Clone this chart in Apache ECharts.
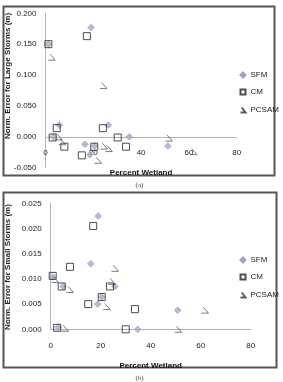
<!DOCTYPE html>
<html>
<head>
<meta charset="utf-8">
<script src="https://cdn.jsdelivr.net/npm/echarts@6/dist/echarts.min.js"></script>
<style>
body { margin: 0; background: #fff; }
#main { width: 283px; height: 382px; }
</style>
</head>
<body>
<div id="main"></div>
<script>
// (a) large storms
var sfmAx = [1.2, 19.1, 5.8, 3.3, 16.5, 18.6, 20.5, 26.3, 35.1, 51.2];
var sfmAy = [0.150, 0.177, 0.019, 0.000, -0.012, -0.029, -0.015, 0.019, 0.000, -0.015];
var cmAx = [1.2, 17.3, 4.7, 3.0, 7.9, 15.2, 20.4, 24.0, 30.2, 33.7];
var cmAy = [0.150, 0.163, 0.014, -0.001, -0.016, -0.030, -0.016, 0.014, -0.001, -0.016];
var pcAx = [2.6, 24.2, 5.5, 7.0, 22.0, 24.5, 26.5, 51.6, 61.9];
var pcAy = [0.129, 0.083, 0.000, -0.008, -0.038, -0.015, -0.019, -0.002, -0.024];

// (b) small storms
var sfmBx = [19.0, 16.0, 0.8, 5.0, 18.8, 20.4, 25.7, 3.0, 34.8, 50.8];
var sfmBy = [0.0225, 0.0130, 0.0104, 0.0085, 0.0050, 0.0064, 0.0085, 0.0004, 0.0000, 0.0038];
var cmBx = [17.0, 7.7, 0.8, 4.4, 15.0, 20.4, 23.7, 2.6, 30.0, 33.7];
var cmBy = [0.0205, 0.0124, 0.0106, 0.0085, 0.0050, 0.0064, 0.0085, 0.0003, 0.0000, 0.0040];
var pcBx = [25.7, 1.7, 7.7, 24.5, 22.4, 5.7, 51.0, 61.7];
var pcBy = [0.0121, 0.0099, 0.0079, 0.0095, 0.0045, 0.0002, 0.0000, 0.0038];

var seriesNames = ["SFM", "CM", "PCSAM"];
var xTicks = [0, 20, 40, 60, 80];

function pairs(xs, ys) {
  var out = [];
  for (var i = 0; i < xs.length; i++) out.push([xs[i], ys[i]]);
  return out;
}

var font = "Liberation Sans, Arial, sans-serif";
var axisGray = "#b4b4b4";
var hook = "path://M2,0L8,8L0,8";

var gridA = { left: 45.5, top: 13.3, width: 191.2, height: 154.4 };
var gridB = { left: 50.7, top: 203.3, width: 200, height: 126 };
var yMinA = -0.05, yMaxA = 0.2;

function xAx(idx, offset) {
  return {
    gridIndex: idx, type: "value", min: xTicks[0], max: xTicks[xTicks.length - 1], interval: 20,
    offset: offset,
    axisLine: { onZero: false, lineStyle: { color: axisGray, width: 1 } },
    axisTick: { show: false }, splitLine: { show: false },
    axisLabel: { fontSize: 8, color: "#222", fontFamily: font, margin: 12 },
    name: "Percent Wetland", nameLocation: "middle", nameGap: 32,
    nameTextStyle: { fontSize: 8, fontWeight: "bold", color: "#111", fontFamily: font }
  };
}
function yAx(idx, min, max, step) {
  return {
    gridIndex: idx, type: "value", min: min, max: max, interval: step,
    axisLine: { show: true, onZero: false, lineStyle: { color: axisGray, width: 1 } },
    axisTick: { show: false }, splitLine: { show: false },
    axisLabel: { fontSize: 8, color: "#222", fontFamily: font, margin: 9,
      formatter: function (v) { return v.toFixed(3); } }
  };
}
function mk(name, idx, data) {
  var s = { name: name, type: "scatter", xAxisIndex: idx, yAxisIndex: idx, data: data };
  if (name === "SFM") {
    s.symbol = "diamond"; s.symbolSize = [7, 7];
    s.itemStyle = { color: "#9eabc9", borderColor: "#8593b8", borderWidth: 0.5 };
  } else if (name === "CM") {
    s.symbol = "rect"; s.symbolSize = 7;
    s.itemStyle = { color: "none", borderColor: "#222", borderWidth: 1 };
  } else {
    s.symbol = hook; s.symbolSize = [7, 6];
    s.itemStyle = { color: "none", borderColor: "#333", borderWidth: 0.8 };
  }
  return s;
}
function legend(top) {
  return {
    data: seriesNames, orient: "vertical", left: 233, top: top, itemGap: 8,
    itemWidth: 5, itemHeight: 5,
    textStyle: { fontSize: 8, color: "#222", fontFamily: font }
  };
}

// x axis of (a) sits on the zero line
var zeroOffA = -gridA.height * (0 - yMinA) / (yMaxA - yMinA);

var chart = echarts.init(document.getElementById("main"), null, { renderer: "canvas" });
chart.setOption({
  animation: false,
  grid: [gridA, gridB],
  xAxis: [xAx(0, zeroOffA), xAx(1, 0)],
  yAxis: [yAx(0, yMinA, yMaxA, 0.05), yAx(1, 0, 0.025, 0.005)],
  legend: [legend(66), legend(251)],
  series: [
    mk("SFM", 0, pairs(sfmAx, sfmAy)),
    mk("CM", 0, pairs(cmAx, cmAy)),
    mk("PCSAM", 0, pairs(pcAx, pcAy)),
    mk("SFM", 1, pairs(sfmBx, sfmBy)),
    mk("CM", 1, pairs(cmBx, cmBy)),
    mk("PCSAM", 1, pairs(pcBx, pcBy))
  ],
  graphic: [
    { type: "rect", shape: { x: 3.5, y: 6.5, width: 271, height: 169 },
      style: { fill: null, stroke: "#555", lineWidth: 2 } },
    { type: "rect", shape: { x: 3.5, y: 192.5, width: 273, height: 175 },
      style: { fill: null, stroke: "#555", lineWidth: 2 } },
    { type: "text", x: 8, y: 76, rotation: Math.PI / 2,
      style: { text: "Norm. Error for Large Storms (m)", fontSize: 8, fontWeight: "bold",
        fill: "#222", fontFamily: font, align: "center", verticalAlign: "middle" } },
    { type: "text", x: 8, y: 267, rotation: Math.PI / 2,
      style: { text: "Norm. Error for Small Storms (m)", fontSize: 8, fontWeight: "bold",
        fill: "#222", fontFamily: font, align: "center", verticalAlign: "middle" } },
    { type: "text", x: 139.5, y: 185,
      style: { text: "(a)", fontSize: 7, fill: "#444", fontFamily: "Liberation Serif, serif",
        align: "center", verticalAlign: "middle" } },
    { type: "text", x: 139.5, y: 378,
      style: { text: "(b)", fontSize: 7, fill: "#444", fontFamily: "Liberation Serif, serif",
        align: "center", verticalAlign: "middle" } }
  ]
});
</script>
</body>
</html>
